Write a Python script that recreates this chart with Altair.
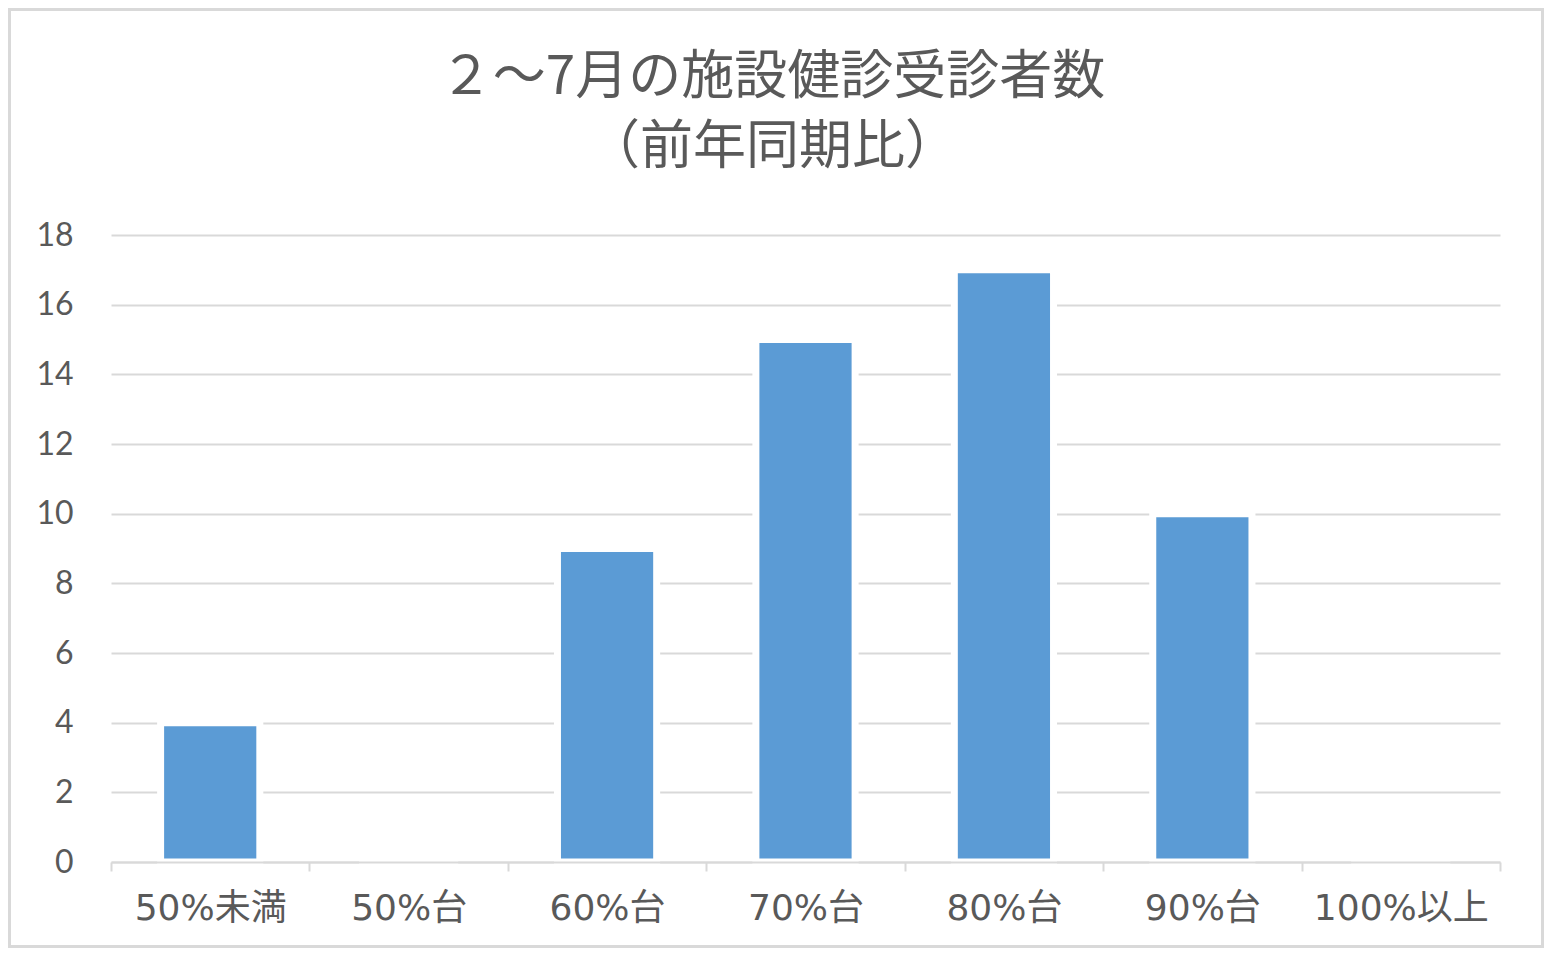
import altair as alt
import pandas as pd

categories = ["50%未満", "50%台", "60%台", "70%台", "80%台", "90%台", "100%以上"]
counts = [4, 0, 9, 15, 17, 10, 0]
title_lines = ["２～7月の施設健診受診者数", "（前年同期比）"]

df = pd.DataFrame({"category": categories, "count": counts})

FONT = "Noto Sans CJK JP"
XFONT = "DejaVu Sans, Noto Sans CJK JP"
YFONT = "Lato, Noto Sans CJK JP"
TXT = "#595959"
GRID = "#d9d9d9"

W, H = 1389, 627
PL, PT, PR, PB = 103, 227, 44, 86

bars = alt.Chart(df).mark_bar(
    color="#5b9bd5", stroke="white", strokeWidth=7,
    width=alt.RelativeBandSize(0.5)
).encode(
    x=alt.X("category:N", sort=categories,
            scale=alt.Scale(paddingInner=0, paddingOuter=0),
            axis=alt.Axis(title=None, labelAngle=0, labelFontSize=36, labelColor=TXT,
                          labelFont=XFONT, labelPadding=20, domainColor=GRID, domainWidth=2,
                          tickColor=GRID, tickWidth=2, tickSize=9, tickBand="extent",
                          zindex=1)),
    y=alt.Y("count:Q", scale=alt.Scale(domain=[0, 18], nice=False),
            axis=alt.Axis(title=None, values=list(range(0, 19, 2)), labelFontSize=32,
                          labelColor=TXT, labelFont=YFONT, labelPadding=38, domain=False,
                          ticks=False, gridColor=GRID, gridWidth=2)),
)

border = alt.Chart(df).mark_rect(fill=None, stroke=GRID, strokeWidth=3).encode(
    x=alt.value(-PL + 1.5), x2=alt.value(W + PR - 1.5),
    y=alt.value(-PT + 1.5), y2=alt.value(H + PB - 1.5),
)

chart = alt.layer(bars, border).properties(
    width=W, height=H,
    padding={"left": PL, "top": PT, "right": PR, "bottom": PB},
    autosize=alt.AutoSizeParams(type="none"),
    title=alt.TitleParams(text=title_lines, fontSize=53, font=FONT, color=TXT,
                          fontWeight="normal", lineHeight=70, anchor="middle",
                          dx=-33, dy=167, offset=0),
).configure_view(stroke=None)

chart.save("out.html", embed_options={"renderer": "svg", "actions": False})
